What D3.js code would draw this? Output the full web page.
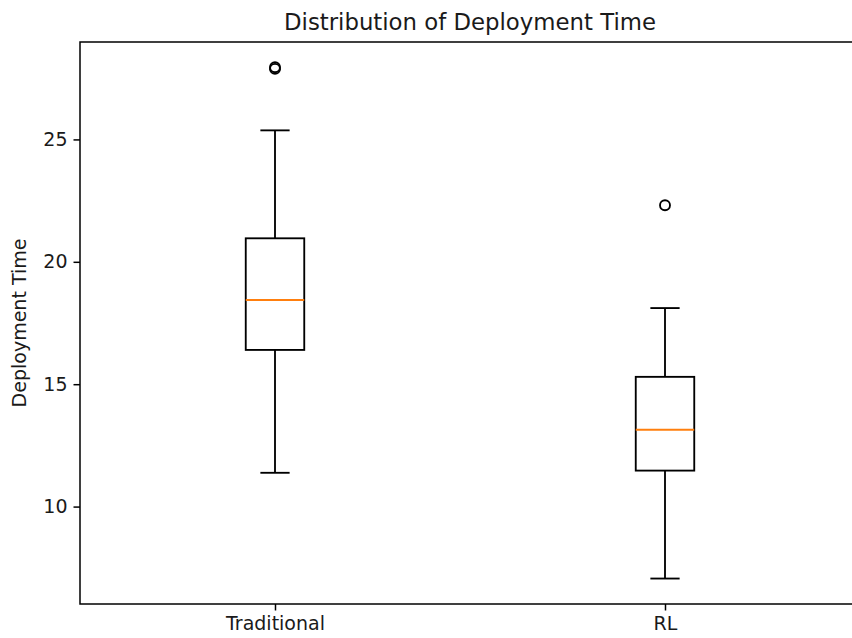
<!DOCTYPE html>
<html>
<head>
<meta charset="utf-8">
<script src="https://cdn.jsdelivr.net/npm/d3@7"></script>
<style>
    html, body { margin: 0; padding: 0; background: #fff; }
    svg { display: block; font-family: "DejaVu Sans", sans-serif; }
</style>
</head>
<body>
<div id="chart"></div>
<script>
// Box statistics
const categories = ['Traditional', 'RL'];
const whiskerLow = [11.38, 7.06];
const q1 = [16.40, 11.47];
const median = [18.44, 13.14];
const q3 = [20.96, 15.30];
const whiskerHigh = [25.37, 18.11];
const outliers = [[27.88, 27.95], [22.31]];
const yTicks = [10, 15, 20, 25];

const width = 852;
const height = 638;
const margin = { top: 42, right: -8, bottom: 34, left: 80 };

const svg = d3.select('#chart')
    .append('svg')
    .attr('width', width)
    .attr('height', height);

const x = d3.scaleLinear()
    .domain([0.5, 2.5])
    .range([margin.left, width - margin.right]);

const y = d3.scaleLinear()
    .domain([6.02, 28.98])
    .range([height - margin.bottom, margin.top]);

const boxes = categories.map((name, i) => ({
    name,
    pos: i + 1,
    lo: whiskerLow[i],
    q1: q1[i],
    med: median[i],
    q3: q3[i],
    hi: whiskerHigh[i],
    fliers: outliers[i]
}));

const boxWidth = 0.15;
const capWidth = boxWidth / 2;
const lw = 1.85;

const plot = svg.append('g');

const groups = plot.selectAll('g.box')
    .data(boxes)
    .join('g')
    .attr('class', 'box');

// whiskers
groups.append('line')
    .attr('x1', (d) => x(d.pos)).attr('x2', (d) => x(d.pos))
    .attr('y1', (d) => y(d.q1)).attr('y2', (d) => y(d.lo))
    .attr('stroke', '#000').attr('stroke-width', lw);

groups.append('line')
    .attr('x1', (d) => x(d.pos)).attr('x2', (d) => x(d.pos))
    .attr('y1', (d) => y(d.q3)).attr('y2', (d) => y(d.hi))
    .attr('stroke', '#000').attr('stroke-width', lw);

// caps
groups.selectAll('line.cap')
    .data((d) => [{ pos: d.pos, v: d.lo }, { pos: d.pos, v: d.hi }])
    .join('line')
    .attr('class', 'cap')
    .attr('x1', (d) => x(d.pos - capWidth / 2))
    .attr('x2', (d) => x(d.pos + capWidth / 2))
    .attr('y1', (d) => y(d.v)).attr('y2', (d) => y(d.v))
    .attr('stroke', '#000').attr('stroke-width', lw);

// box
groups.append('rect')
    .attr('x', (d) => x(d.pos - boxWidth / 2))
    .attr('width', (d) => x(d.pos + boxWidth / 2) - x(d.pos - boxWidth / 2))
    .attr('y', (d) => y(d.q3))
    .attr('height', (d) => y(d.q1) - y(d.q3))
    .attr('fill', 'none')
    .attr('stroke', '#000').attr('stroke-width', lw);

// median
groups.append('line')
    .attr('x1', (d) => x(d.pos - boxWidth / 2))
    .attr('x2', (d) => x(d.pos + boxWidth / 2))
    .attr('y1', (d) => y(d.med)).attr('y2', (d) => y(d.med))
    .attr('stroke', '#ff7f0e').attr('stroke-width', lw);

// fliers
groups.selectAll('circle')
    .data((d) => d.fliers.map((v) => ({ pos: d.pos, v })))
    .join('circle')
    .attr('cx', (d) => x(d.pos))
    .attr('cy', (d) => y(d.v))
    .attr('r', 5)
    .attr('fill', 'none')
    .attr('stroke', '#000').attr('stroke-width', 1.85);

// axes
const yAxis = d3.axisLeft(y)
    .tickValues(yTicks)
    .tickSize(6.5)
    .tickPadding(6)
    .tickFormat(d3.format('d'));

const gy = svg.append('g')
    .attr('transform', `translate(${margin.left},0)`)
    .call(yAxis);

const xAxis = d3.axisBottom(x)
    .tickValues(boxes.map((d) => d.pos))
    .tickSize(6.5)
    .tickPadding(6)
    .tickFormat((d) => categories[d - 1]);

const gx = svg.append('g')
    .attr('transform', `translate(0,${height - margin.bottom})`)
    .call(xAxis);

[gx, gy].forEach((g) => {
    g.select('.domain').remove();
    g.selectAll('.tick line').attr('stroke', '#000').attr('stroke-width', 1.5);
    g.selectAll('.tick text')
        .attr('fill', '#1a1a1a')
        .style('font-size', '19px')
        .style('font-family', '"DejaVu Sans", sans-serif');
});

// spines
svg.append('rect')
    .attr('x', margin.left)
    .attr('y', margin.top)
    .attr('width', x(2.5) - margin.left)
    .attr('height', y.range()[0] - margin.top)
    .attr('fill', 'none')
    .attr('stroke', '#000')
    .attr('stroke-width', 1.5);

svg.append('text')
    .attr('x', (x(0.5) + x(2.5)) / 2)
    .attr('y', 30)
    .attr('text-anchor', 'middle')
    .attr('fill', '#1a1a1a')
    .style('font-size', '22.8px')
    .text('Distribution of Deployment Time');

svg.append('text')
    .attr('transform', `translate(26,${(margin.top + y.range()[0]) / 2}) rotate(-90)`)
    .attr('text-anchor', 'middle')
    .attr('fill', '#1a1a1a')
    .style('font-size', '19px')
    .text('Deployment Time');
</script>
</body>
</html>
